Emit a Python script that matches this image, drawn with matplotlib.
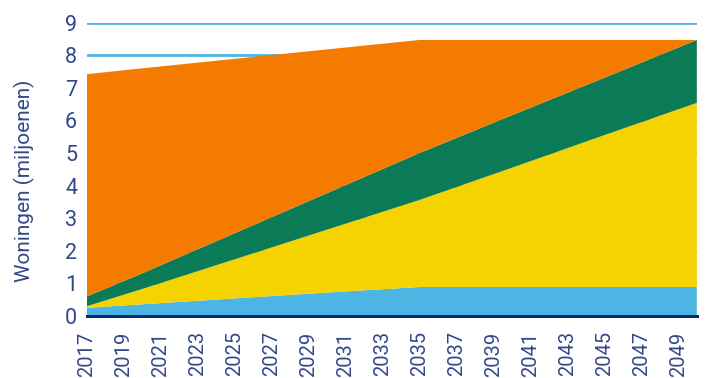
import matplotlib.pyplot as plt

# housing stock per category (millions), stacked bottom to top
years = [2017, 2020, 2025, 2030, 2035, 2040, 2045, 2050]
blue = [0.25, 0.36, 0.54, 0.72, 0.89, 0.89, 0.89, 0.89]
yellow = [0.05, 0.47, 1.20, 1.93, 2.67, 3.66, 4.66, 5.65]
green = [0.30, 0.48, 0.80, 1.12, 1.44, 1.61, 1.76, 1.93]
orange = [6.82, 6.29, 5.35, 4.41, 3.47, 2.31, 1.16, 0.0]

xticks = list(range(2017, 2050, 2))
yticks = list(range(0, 10))

navy = "#34478a"
colors = ["#4db5e3", "#f5d300", "#0b7a57", "#f47a00"]

plt.rcParams["font.family"] = ["Roboto", "DejaVu Sans"]

fig = plt.figure(figsize=(7.06, 3.78), dpi=100)
ax = fig.add_axes([0.123, 0.164, 0.864, 0.776])

ax.set_axisbelow(True)
ax.grid(axis="y", color="#4db5e3", linewidth=2)
ax.stackplot(years, blue, yellow, green, orange, colors=colors, linewidth=0)

ax.set_xlim(2017, 2050)
ax.set_ylim(0, 9)
ax.set_xticks(xticks)
ax.set_yticks(yticks)
ax.set_xticklabels([str(y) for y in xticks], rotation=90, fontsize=14.5, color=navy)
ax.set_yticklabels([str(v) for v in yticks], fontsize=15.5, color=navy)
ax.tick_params(axis="both", length=0)
ax.tick_params(axis="x", pad=11)
ax.tick_params(axis="y", pad=7)

for side in ["top", "right", "left"]:
    ax.spines[side].set_visible(False)
ax.spines["bottom"].set_color("#0a2a6e")
ax.spines["bottom"].set_linewidth(2.2)
ax.spines["bottom"].set_zorder(5)

ax.set_ylabel("Woningen (miljoenen)", fontsize=15, color=navy)
ax.yaxis.set_label_coords(-0.085, 0.46)

fig.savefig("out.png", dpi=100)
